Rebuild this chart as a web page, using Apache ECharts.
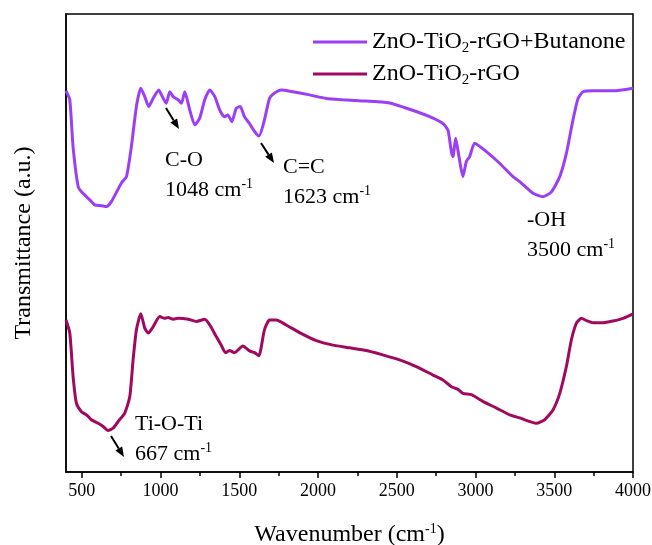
<!DOCTYPE html>
<html lang="en">
<head>
<meta charset="UTF-8">
<title>FTIR ZnO-TiO2-rGO</title>
<script src="https://cdn.jsdelivr.net/npm/echarts@6/dist/echarts.min.js"></script>
<style>
  html, body { margin: 0; padding: 0; background: #fff; }
</style>
</head>
<body>
<div id="main" style="width: 652px;height:545px;"></div>
<script>
  const font = 'Liberation Serif';
  const names = ['ZnO-TiO2-rGO+Butanone', 'ZnO-TiO2-rGO'];
  const colors = ['#9b3ff5', '#a1095e'];

  // wavenumber (cm-1) / transmittance (a.u.)
  const wnTop = [400, 424, 445, 477, 498, 551, 582, 625, 657, 688, 752, 784, 815, 847, 875, 900, 925, 953, 989, 1006,
    1036, 1059, 1080, 1112, 1133, 1154, 1186, 1218, 1249, 1281, 1313, 1345, 1376, 1406, 1427, 1453, 1481, 1506, 1533, 1565,
    1597, 1625, 1660, 1692, 1724, 1767, 1840, 1946, 2052, 2158, 2260, 2455, 2645, 2730, 2793, 2825, 2847, 2857, 2874, 2895,
    2920, 2942, 2963, 2995, 3069, 3153, 3238, 3281, 3365, 3429, 3482, 3535, 3577, 3619, 3651, 3683, 3746, 3873, 4000];
  const tTop = [82.8, 80.8, 70.2, 61.4, 60.2, 58.4, 57.3, 57.1, 56.9, 58.0, 62.2, 63.6, 70.3, 79.3, 83.4, 81.5, 79.3, 81.1, 83.0, 81.9,
    80.0, 82.6, 81.5, 80.8, 80.0, 82.6, 78.5, 75.2, 76.7, 80.8, 83.0, 81.5, 78.5, 77.0, 77.4, 75.9, 78.9, 79.3, 77.0, 75.5,
    73.7, 72.7, 76.3, 81.1, 82.3, 83.0, 82.6, 81.9, 81.1, 80.8, 80.6, 80.1, 77.9, 76.7, 75.5, 74.0, 69.2, 68.1, 72.2, 68.1,
    63.6, 67.0, 68.1, 71.1, 69.2, 66.6, 63.6, 62.5, 59.9, 59.1, 60.2, 63.6, 68.8, 76.3, 81.1, 82.6, 82.8, 82.8, 83.4];

  const wnBottom = [400, 424, 445, 466, 498, 530, 561, 604, 636, 667, 699, 731, 773, 805, 826, 847, 875, 900, 922, 953,
    995, 1027, 1049, 1080, 1112, 1176, 1228, 1281, 1313, 1354, 1385, 1413, 1438, 1470, 1523, 1565, 1597, 1624, 1660, 1692,
    1735, 1798, 1883, 1989, 2094, 2200, 2307, 2412, 2518, 2624, 2730, 2793, 2847, 2889, 2920, 2974, 3047, 3133, 3217, 3281,
    3344, 3387, 3439, 3492, 3535, 3577, 3609, 3641, 3673, 3704, 3746, 3810, 3873, 3937, 4000];
  const tBottom = [31.5, 28.6, 18.9, 12.9, 11.0, 10.3, 9.2, 8.4, 7.7, 6.8, 7.3, 8.8, 10.7, 14.4, 22.6, 29.3, 32.9, 29.7, 28.6, 30.0,
    32.3, 31.9, 32.1, 31.7, 31.9, 31.7, 31.2, 31.7, 30.4, 27.8, 25.9, 24.2, 24.7, 24.2, 25.7, 24.6, 24.2, 23.5, 29.3, 31.5,
    31.5, 30.4, 28.7, 26.9, 25.9, 25.3, 24.7, 23.7, 22.6, 21.1, 19.2, 18.1, 16.6, 16.0, 15.1, 14.8, 13.3, 11.8, 10.3, 9.6,
    8.8, 8.4, 9.2, 11.4, 15.1, 21.1, 27.1, 30.8, 31.9, 31.4, 30.9, 30.9, 31.3, 31.9, 32.9];

  const xTicks = [500, 1000, 1500, 2000, 2500, 3000, 3500, 4000];
  const xMinorTicks = [750, 1250, 1750, 2250, 2750, 3250, 3750];

  const zip = (xs, ys) => xs.map((x, i) => [x, ys[i]]);

  const sup = { fontSize: 14, fontFamily: font, color: '#000', padding: [0, 0, 12, 0] };
  const sub = { fontSize: 15, fontFamily: font, color: '#000', padding: [13, 0, 0, 0] };

  function arrow(x1, y1, x2, y2) {
    const dx = x2 - x1, dy = y2 - y1, len = Math.hypot(dx, dy);
    const ux = dx / len, uy = dy / len, hl = 10, hw = 4;
    const bx = x2 - ux * hl, by = y2 - uy * hl;
    return [
      { type: 'line', shape: { x1: x1, y1: y1, x2: bx, y2: by }, style: { stroke: '#000', lineWidth: 2 } },
      { type: 'polygon', shape: { points: [[x2, y2], [bx - uy * hw, by + ux * hw], [bx + uy * hw, by - ux * hw]] }, style: { fill: '#000' } }
    ];
  }

  function note(x, y, text) {
    return {
      type: 'text', left: x, top: y,
      style: { text: text, fontSize: 22, fontFamily: font, fill: '#000', lineHeight: 30, rich: { sup: sup } }
    };
  }

  const myChart = echarts.init(document.getElementById('main'));
  const option = {
    animation: false,
    color: colors,
    grid: {
      left: 66, right: 19, top: 14, bottom: 73, outerBoundsMode: 'none',
      show: true, borderColor: '#000', borderWidth: 1.5
    },
    legend: {
      orient: 'vertical',
      left: 313,
      top: 30,
      padding: 0,
      icon: 'rect',
      itemWidth: 54,
      itemHeight: 3,
      itemGap: 6,
      data: names,
      formatter: n => n.replace('TiO2', 'TiO{sub|2}'),
      textStyle: { fontSize: 24, fontFamily: font, color: '#000', rich: { sub: sub } }
    },
    xAxis: [
      {
        type: 'value', min: 400, max: 4000,
        name: 'Wavenumber (cm{sup|-1})',
        nameLocation: 'middle',
        nameGap: 50,
        nameTextStyle: { fontSize: 24, fontFamily: font, color: '#000', rich: { sup: sup } },
        axisLine: { onZero: false, lineStyle: { color: '#000', width: 1.5 } },
        axisTick: { customValues: xTicks, length: 6, lineStyle: { color: '#000', width: 1.5 } },
        axisLabel: { customValues: xTicks, formatter: v => String(v), fontSize: 18, fontFamily: font, color: '#000', margin: 10 },
        splitLine: { show: false }
      },
      {
        type: 'value', min: 400, max: 4000, position: 'bottom',
        axisLine: { show: false, onZero: false },
        axisTick: { customValues: xMinorTicks, length: 4, lineStyle: { color: '#000', width: 1.5 } },
        axisLabel: { show: false },
        splitLine: { show: false }
      }
    ],
    yAxis: {
      type: 'value', min: -2.5, max: 100,
      name: 'Transmittance (a.u.)',
      nameLocation: 'middle',
      nameGap: 30,
      nameTextStyle: { fontSize: 24, fontFamily: font, color: '#000' },
      axisLine: { show: true, onZero: false, lineStyle: { color: '#000', width: 1.5 } },
      axisTick: { show: false },
      axisLabel: { show: false },
      splitLine: { show: false }
    },
    series: [
      {
        name: names[0], type: 'line', symbol: 'none', smooth: 0.2,
        lineStyle: { width: 3, color: colors[0] },
        data: zip(wnTop, tTop)
      },
      {
        name: names[1], type: 'line', symbol: 'none', smooth: 0.2,
        lineStyle: { width: 3, color: colors[1] },
        data: zip(wnBottom, tBottom)
      }
    ],
    graphic: [
      note(165, 145, 'C-O\n1048 cm{sup|-1}'),
      note(283, 152, 'C=C\n1623 cm{sup|-1}'),
      note(527, 205, '-OH\n3500 cm{sup|-1}'),
      note(135, 409, 'Ti-O-Ti\n667 cm{sup|-1}'),
      ...arrow(166, 108, 179, 129),
      ...arrow(261, 143, 274, 163),
      ...arrow(111, 436, 124, 457)
    ]
  };
  myChart.setOption(option);
</script>
</body>
</html>
